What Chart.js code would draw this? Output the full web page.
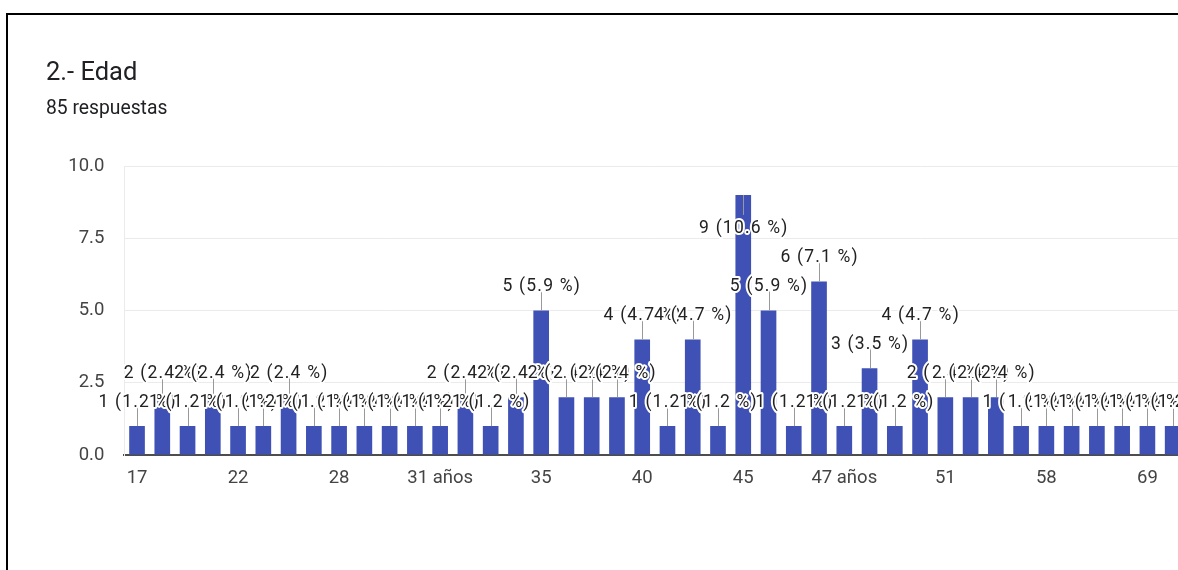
<!DOCTYPE html>
<html><head><meta charset="utf-8">
<script src="https://cdn.jsdelivr.net/npm/chart.js@4"></script>
<style>
html,body{margin:0;padding:0;width:1178px;height:570px;overflow:hidden;background:#fff;}
#frame{position:absolute;left:6px;top:13px;width:2000px;height:2000px;border-left:2px solid #000;border-top:2px solid #000;box-sizing:border-box;}
#wrap{position:absolute;left:0;top:0;width:1260px;height:570px;}
</style></head><body>
<div id="frame"></div>
<div id="wrap"><canvas id="c" width="1260" height="570"></canvas></div>
<script>
const titleText = '2.- Edad';
const subtitleText = '85 respuestas';
const categories = ['17','18','19','20','22','23','24','25','28','29','30','31','31 años','32','33','34','35','36','37','38','40','41','42','43','45','46','46 años','47','47 años','48','49','50','51','52','53','55','58','60','62','65','69','70'];
const counts = [1,2,1,2,1,1,2,1,1,1,1,1,1,2,1,2,5,2,2,2,4,1,4,1,9,5,1,6,1,3,1,4,2,2,2,1,1,1,1,1,1,1];
const totalResponses = 85;
const shownTickLabels = ['17','22','28','31 años','35','40','45','47 años','51','58','69'];
const yTicks = [0, 2.5, 5, 7.5, 10];

const headerPlugin = {
  id: 'header',
  afterDraw(chart) {
    const ctx = chart.ctx;
    ctx.save();
    ctx.fillStyle = '#202124';
    ctx.textAlign = 'left';
    ctx.textBaseline = 'alphabetic';
    ctx.font = '25.5px Roboto';
    ctx.fillText(titleText, 46, 79.5);
    ctx.font = '19.3px Roboto';
    ctx.fillText(subtitleText, 46, 114);
    ctx.restore();
  }
};

const annotPlugin = {
  id: 'annot',
  afterDatasetsDraw(chart) {
    const ctx = chart.ctx;
    const meta = chart.getDatasetMeta(0);
    const area = chart.chartArea;
    const items = meta.data.map((bar, i) => {
      const v = counts[i];
      const txt = v + ' (' + (v / totalResponses * 100).toFixed(1) + ' %)';
      const top = bar.y;
      const flip = (top - 19.4 - 12.4) < area.top;
      return { x: bar.x, top, txt, flip };
    });
    ctx.save();
    ctx.strokeStyle = '#999';
    ctx.lineWidth = 1;
    items.forEach(it => {
      const x = Math.round(it.x) + 0.5;
      ctx.beginPath();
      ctx.moveTo(x, it.top);
      ctx.lineTo(x, it.flip ? it.top + 20 : it.top - 20);
      ctx.stroke();
    });
    ctx.font = '17.5px Roboto';
    try { ctx.letterSpacing = '1.2px'; } catch (e) {}
    ctx.textAlign = 'center';
    ctx.textBaseline = 'alphabetic';
    ctx.lineJoin = 'round';
    items.forEach(it => {
      const y = it.flip ? it.top + 38.4 : it.top - 19.4;
      const x = it.x + 0.6;
      ctx.lineWidth = 4;
      ctx.strokeStyle = '#fff';
      ctx.strokeText(it.txt, x, y);
      ctx.fillStyle = '#222';
      ctx.fillText(it.txt, x, y);
    });
    ctx.restore();
  }
};

new Chart(document.getElementById('c'), {
  type: 'bar',
  data: {
    labels: categories,
    datasets: [{
      data: counts,
      backgroundColor: '#3f51b5',
      borderWidth: 0,
      categoryPercentage: 1,
      barPercentage: 0.62
    }]
  },
  options: {
    responsive: false,
    animation: false,
    devicePixelRatio: 1,
    layout: { padding: { top: 166, left: 0, right: 74.7, bottom: 0 } },
    plugins: { legend: { display: false }, tooltip: { enabled: false }, title: { display: false } },
    scales: {
      x: {
        grid: { display: false },
        border: { display: true, color: '#4d4d4d', width: 2 },
        ticks: {
          autoSkip: false, maxRotation: 0, minRotation: 0, padding: 4,
          color: '#444', font: { family: 'Roboto', size: 18.5 },
          callback: function (val, idx) { const l = categories[idx]; return shownTickLabels.includes(l) ? l : ''; }
        },
        afterFit(scale) { scale.height = 115; }
      },
      y: {
        min: 0, max: 10,
        afterBuildTicks(scale) { scale.ticks = yTicks.map(v => ({ value: v })); },
        grid: { color: '#ebebeb', lineWidth: 1, drawTicks: false },
        border: { display: true, color: '#ebebeb', width: 1 },
        ticks: {
          padding: 20, color: '#444', font: { family: 'Roboto', size: 18.5 },
          callback: v => Number(v).toFixed(1)
        },
        afterFit(scale) { scale.width = 124.4; }
      }
    }
  },
  plugins: [headerPlugin, annotPlugin]
});
</script>
</body></html>
